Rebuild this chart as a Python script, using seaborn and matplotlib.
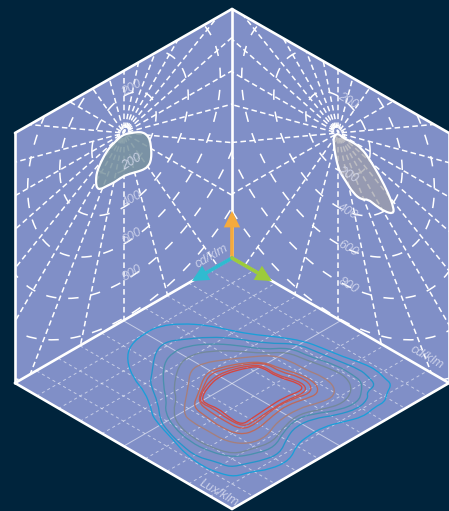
import numpy as np
import matplotlib
matplotlib.use('Agg')
import matplotlib.pyplot as plt
from matplotlib.patches import Polygon, PathPatch
from matplotlib.path import Path
import seaborn as sns

# Photometric curves on the two walls (cd/klm)
left_curve_x = [-6, -44, -87, -118, -143, -162, -168, -171, -168, -156, -131, -87, -37, 12, 56, 106, 149, 168, 174, 174, 168, 149, 118, 87, 56, 25]
left_curve_y = [-9, -22, -38, -56, -82, -119, -160, -193, -230, -251, -260, -252, -238, -231, -237, -233, -231, -213, -188, -156, -126, -93, -55, -32, -21, -9]
right_curve_x = [0, -29, -25, -19, 2, 23, 44, 95, 147, 188, 230, 292, 344, 348, 313, 261, 199, 147, 85, 33]
right_curve_y = [0, -35, -77, -119, -190, -215, -232, -278, -288, -264, -274, -279, -265, -232, -169, -105, -46, -9, -4, -12]

ring_values = [40, 200, 400, 600, 800, 1000, 1200]
spoke_angles = list(range(0, 360, 15))
label_values = [200, 400, 600, 800]

# Illuminance contours on the floor, outermost first (lux/klm, along the floor diagonals)
contour_across = [
    [-316, -306, -261, -216, -151, -76, -16, 54, 134, 214, 274, 334, 394, 434, 459, 479, 464, 459, 429, 394, 334, 274, 224, 194, 174, 114, 54, 9, -36, -86, -141, -171, -236, -241, -261, -296],
    [-241, -231, -201, -151, -66, 14, 104, 194, 254, 314, 384, 409, 431, 404, 409, 379, 314, 244, 189, 164, 144, 94, 44, -6, -46, -106, -151, -191, -216, -221, -246],
    [-206, -206, -176, -136, -66, 14, 94, 174, 234, 314, 364, 389, 389, 379, 324, 249, 194, 154, 129, 74, 4, -66, -126, -176, -201, -196],
    [-176, -161, -126, -66, 14, 94, 164, 224, 294, 344, 362, 334, 274, 204, 159, 124, 64, 4, -66, -116, -166, -176, -166],
    [-148, -131, -126, -86, -16, 54, 124, 174, 224, 274, 309, 304, 254, 199, 134, 104, 49, -16, -76, -121],
    [-118, -101, -81, -36, 34, 94, 144, 204, 254, 259, 224, 164, 124, 74, 24, -36, -76],
    [-104, -86, -66, -16, 54, 104, 144, 204, 239, 234, 184, 124, 74, 29, -26, -66],
    [-98, -71, -26, 54, 94, 134, 194, 224, 214, 164, 114, 64, 34, -16, -56, -91],
    [-91, -76, -36, 54, 89, 134, 204, 214, 154, 104, 59, 29, -11, -41, -81],
]
contour_depth = [
    [-70, -115, -152, -173, -180, -175, -162, -148, -140, -128, -105, -80, -60, -40, -15, 2, 30, 55, 70, 100, 115, 130, 160, 185, 230, 258, 265, 280, 270, 250, 210, 175, 105, 80, 25, -15],
    [-25, -95, -125, -132, -140, -135, -120, -120, -95, -70, -42, -20, 5, 25, 45, 75, 95, 105, 130, 165, 210, 230, 240, 252, 235, 220, 185, 145, 110, 60, 0],
    [10, -60, -95, -112, -120, -115, -102, -108, -80, -55, -25, -5, 25, 55, 80, 90, 105, 145, 190, 210, 222, 205, 175, 130, 85, 50],
    [15, -55, -85, -98, -98, -90, -95, -70, -45, -20, 20, 60, 77, 90, 125, 175, 195, 213, 190, 165, 120, 80, 45],
    [90, 10, -40, -62, -72, -80, -85, -68, -40, -20, 10, 42, 60, 75, 115, 160, 182, 175, 140, 115],
    [70, 30, -30, -48, -62, -65, -45, -28, 0, 30, 45, 65, 95, 140, 155, 130, 100],
    [55, 10, -30, -45, -60, -60, -35, -20, 5, 30, 45, 75, 120, 140, 110, 85],
    [42, -5, -35, -55, -53, -25, -10, 10, 30, 50, 80, 115, 130, 105, 75, 60],
    [45, 15, -25, -50, -50, -20, 0, 20, 42, 75, 105, 125, 100, 75, 60],
]
contour_colors = ['#1a9fd9', '#2496cb', '#4a90ae', '#73899a', '#a67f7c', '#bd6a5c', '#c95a50', '#d04f48', '#d64640']
floor_levels = [-0.8, -0.6, -0.4, -0.2, 0, 0.2, 0.4, 0.6, 0.8]

BG = '#00243c'
WALL = '#808fc7'
WHITE = '#ffffff'
TEXT = '#d9ddf0'

# layout of the cube
TOP = (232, 9)
MID = (232, 258)
BOTTOM = (232, 509)
LEFT_UP = (15, 133)
LEFT_DOWN = (15, 383)
RIGHT_UP = (449, 133)
RIGHT_DOWN = (449, 383)
LEFT_POLE = (124, 133)
RIGHT_POLE = (338, 133)
FLOOR_MID = (232, 383.5)
SCALE = 37 / 200
ACROSS_MAX, DEPTH_MAX = 651, 376.5


def to_left(x, y):
    x, y = np.asarray(x, float) * SCALE, np.asarray(y, float) * SCALE
    return LEFT_POLE[0] - 0.868 * x, LEFT_POLE[1] + 0.5 * x - y


def to_right(x, y):
    x, y = np.asarray(x, float) * SCALE, np.asarray(y, float) * SCALE
    return RIGHT_POLE[0] + 0.868 * x, RIGHT_POLE[1] + 0.5 * x - y


def to_floor(across, depth):
    px = FLOOR_MID[0] + np.asarray(across, float) * 217 / ACROSS_MAX
    py = FLOOR_MID[1] + np.asarray(depth, float) * 125.5 / DEPTH_MAX
    return px, py


def draw(px, py, color=WHITE, lw=1.0, ls='-', alpha=1.0, clip=None, z=3):
    before = len(ax.lines)
    sns.lineplot(x=px, y=py, sort=False, estimator=None, errorbar=None, ax=ax, color=color,
                 linewidth=lw, linestyle=ls, alpha=alpha, legend=False, zorder=z)
    for line in ax.lines[before:]:
        line.set_solid_joinstyle('round')
        if clip is not None:
            line.set_clip_path(clip)


def smooth_loop(px, py, **style):
    # closed curve with the read points as quadratic control points
    pts = np.column_stack([px, py])
    mids = (pts + np.roll(pts, -1, axis=0)) / 2
    verts = [mids[-1]]
    codes = [Path.MOVETO]
    for p, m in zip(pts, mids):
        verts += [p, m]
        codes += [Path.CURVE3, Path.CURVE3]
    ax.add_patch(PathPatch(Path(verts, codes), **style))


sns.set_style('white')
plt.rcParams['font.family'] = ['Liberation Sans', 'DejaVu Sans']
plt.rcParams['lines.scale_dashes'] = False

fig = plt.figure(figsize=(4.49, 5.11), dpi=100, facecolor=BG)
ax = fig.add_axes([0, 0, 1, 1])
ax.set_facecolor(BG)

left_clip = Polygon([TOP, MID, LEFT_DOWN, LEFT_UP], closed=True, fc=WALL, ec='none', zorder=1)
right_clip = Polygon([TOP, RIGHT_UP, RIGHT_DOWN, MID], closed=True, fc=WALL, ec='none', zorder=1)
floor_clip = Polygon([MID, RIGHT_DOWN, BOTTOM, LEFT_DOWN], closed=True, fc=WALL, ec='none', zorder=1)
for p in (left_clip, right_clip, floor_clip):
    ax.add_patch(p)

# polar grids on both walls
circle = np.radians(np.arange(0, 361, 3))
for proj, clip in ((to_left, left_clip), (to_right, right_clip)):
    for ang in spoke_angles:
        a = np.radians(ang)
        r = np.array([25, 1500])
        px, py = proj(r * np.cos(a), r * np.sin(a))
        draw(px, py, lw=1.1, ls=(0, (4.0, 2.4)), clip=clip)
    for r in ring_values:
        px, py = proj(r * np.cos(circle), r * np.sin(circle))
        dash = (0, (1.5, 1.5)) if r < 100 else (0, (7.5, 8.5))
        draw(px, py, lw=1.1, ls=dash, clip=clip)

# light distribution curves
px, py = to_left(left_curve_x, left_curve_y)
smooth_loop(px, py, fc=(0.475, 0.576, 0.624, 0.85), ec=WHITE, lw=1.6, zorder=5)
px, py = to_right(right_curve_x, right_curve_y)
smooth_loop(px, py, fc=(0.627, 0.627, 0.659, 0.7), ec=WHITE, lw=1.6, zorder=5)

# bright spot at the poles
for proj, off in ((to_left, 12), (to_right, 10)):
    px, py = proj(off * np.cos(circle), off * np.sin(circle) + 8)
    ax.fill(px, py, color=WHITE, lw=0, zorder=5)

# floor grid
ends = np.array([-1, 1])
for level in floor_levels:
    ls = '-' if level == 0 else (0, (2.2, 2.2))
    px, py = to_floor(ACROSS_MAX * (level + ends) / 2, DEPTH_MAX * (level - ends) / 2)
    draw(px, py, lw=0.7, ls=ls, alpha=0.55, clip=floor_clip)
    px, py = to_floor(ACROSS_MAX * (ends + level) / 2, DEPTH_MAX * (ends - level) / 2)
    draw(px, py, lw=0.7, ls=ls, alpha=0.55, clip=floor_clip)

# contours
for across, depth, color in zip(contour_across, contour_depth, contour_colors):
    px, py = to_floor(across, depth)
    smooth_loop(px, py, fc='none', ec=color, lw=0.95, zorder=6)

# cube edges
for a, b in ((TOP, MID), (MID, LEFT_DOWN), (MID, RIGHT_DOWN), (TOP, LEFT_UP), (LEFT_UP, LEFT_DOWN),
             (LEFT_DOWN, BOTTOM), (BOTTOM, RIGHT_DOWN), (RIGHT_DOWN, RIGHT_UP), (RIGHT_UP, TOP)):
    draw([a[0], b[0]], [a[1], b[1]], lw=1.9, z=7)

# axis arrows
for tip, color in (((232, 211), '#f5aa3c'), ((192, 281), '#2fbbd0'), ((272, 281), '#9ccb3c')):
    ax.annotate('', xy=tip, xytext=MID, zorder=8,
                arrowprops=dict(arrowstyle='-|>', color=color, lw=2.6, mutation_scale=19,
                                shrinkA=0, shrinkB=0, joinstyle='miter'))

# labels
text_style = dict(color=TEXT, fontsize=9, style='italic', ha='center', va='center', zorder=9, alpha=0.85)
px, py = to_left(-50, 200 + 20)
ax.text(px, py, '200', rotation=30, **text_style)
px, py = to_right(62, 200 + 4)
ax.text(px, py, '200', rotation=-30, **text_style)
for v in label_values:
    px, py = to_left(-50, -v + 20)
    ax.text(px, py, str(v), rotation=30, **text_style)
    px, py = to_right(62, -v + 4)
    ax.text(px, py, str(v), rotation=-30, **text_style)
ax.text(212, 256, 'cd/klm', rotation=30, **text_style)
ax.text(427, 357, 'cd/klm', rotation=-30, **text_style)
ax.text(219, 493, 'Lux/klm', rotation=-30, **text_style)

ax.set_xlim(0, 449)
ax.set_ylim(511, 0)
ax.axis('off')
fig.savefig('out.png', dpi=100, facecolor=BG)
